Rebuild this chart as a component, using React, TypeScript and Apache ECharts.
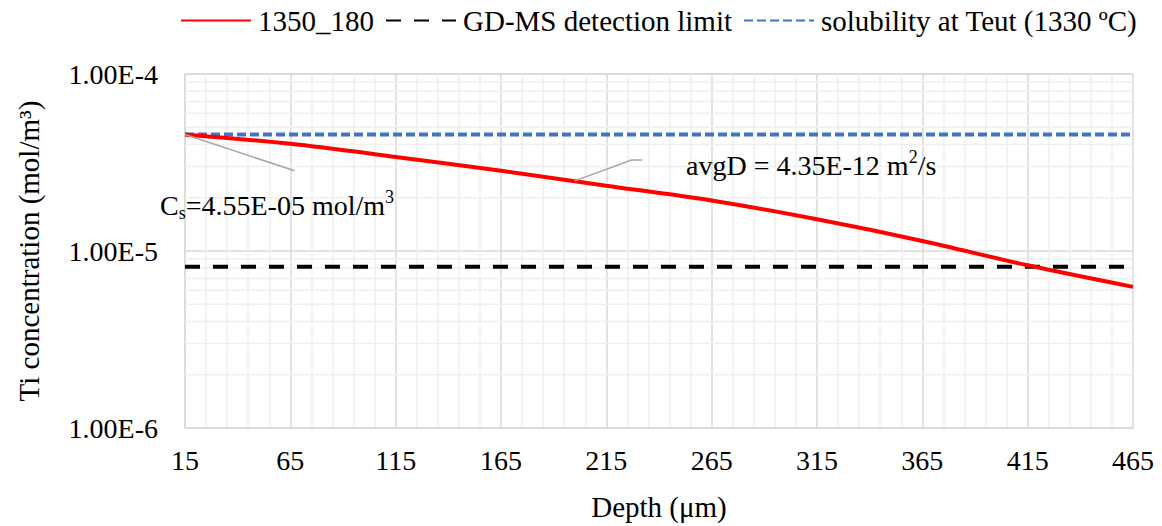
import React, { useEffect, useRef } from 'react';
import * as echarts from 'echarts';

const depth = [15, 65, 115, 165, 215, 265, 315, 365, 415, 465];
const conc1350 = [4.55e-5, 4.03e-5, 3.4e-5, 2.84e-5, 2.34e-5, 1.93e-5, 1.51e-5, 1.14e-5, 8.3e-6, 6.27e-6];
const detectionLimit = 8.15e-6;
const solubility = 4.55e-5;
const xStart = 15;
const xEnd = 465;
const yMinor = [2e-6, 3e-6, 4e-6, 5e-6, 6e-6, 7e-6, 8e-6, 9e-6, 2e-5, 3e-5, 4e-5, 5e-5, 6e-5, 7e-5, 8e-5, 9e-5];
const seriesNames = ['1350_180', 'GD-MS detection limit', 'solubility at Teut (1330 ºC)'];
const leaderCs = [[15, 4.55e-5], [67, 2.84e-5]];
const leaderD = [[200, 2.49e-5], [227, 3.27e-5], [232, 3.27e-5]];

const FONT = 'Liberation Serif';

export default function App() {
  const ref = useRef<HTMLDivElement>(null);
  useEffect(() => {
    if (!ref.current) return;
    const chart = echarts.init(ref.current, undefined, { renderer: 'svg' });
    const minorSeries = yMinor.map((v, i) => ({
      name: 'minor' + i,
      type: 'line',
      data: [[0, v], [xEnd - xStart, v]],
      symbol: 'none',
      silent: true,
      z: 1,
      lineStyle: { color: '#efefef', width: 1.5 },
      emphasis: { disabled: true },
      tooltip: { show: false },
    }));
    const option: any = {
      animation: false,
      textStyle: { fontFamily: FONT, color: '#000' },
      legend: {
        data: seriesNames,
        top: 1,
        left: 175,
        itemWidth: 70,
        itemHeight: 14,
        itemGap: 11,
        itemStyle: { opacity: 0 },
        textStyle: { fontFamily: FONT, fontSize: 29, color: '#000', padding: [0, 0, 0, 2] },
      },
      grid: { left: 185, top: 74, width: 948, height: 357 },
      xAxis: {
        type: 'value',
        min: 0,
        max: xEnd - xStart,
        interval: 50,
        name: 'Depth (μm)',
        nameLocation: 'middle',
        nameGap: 64,
        nameTextStyle: { fontFamily: FONT, fontSize: 29, color: '#000' },
        axisLabel: {
          formatter: (v: number) => String(v + xStart),
          fontFamily: FONT,
          fontSize: 28,
          color: '#000',
          margin: 18,
        },
        axisLine: { show: true, lineStyle: { color: '#d9d9d9', width: 1.5 } },
        axisTick: { show: false },
        splitLine: { show: true, lineStyle: { color: '#d9d9d9', width: 1.5 } },
        minorTick: { show: false, splitNumber: 5 },
        minorSplitLine: { show: true, lineStyle: { color: '#efefef', width: 1.5 } },
      },
      yAxis: {
        type: 'log',
        logBase: 10,
        min: 1e-6,
        max: 1e-4,
        name: 'Ti concentration (mol/m³)',
        nameLocation: 'middle',
        nameGap: 142,
        nameTextStyle: { fontFamily: FONT, fontSize: 29, color: '#000' },
        axisLabel: {
          formatter: (v: number) => v.toExponential(2).toUpperCase().replace('E-0', 'E-'),
          fontFamily: FONT,
          fontSize: 28,
          color: '#000',
          margin: 27,
        },
        axisLine: { show: true, lineStyle: { color: '#d9d9d9', width: 1.5 } },
        axisTick: { show: false },
        splitLine: { show: true, lineStyle: { color: '#d9d9d9', width: 1.5 } },
      },
      series: [
        ...minorSeries,
        {
          name: seriesNames[0],
          type: 'line',
          z: 5,
          smooth: 0.3,
          symbol: 'none',
          lineStyle: { color: '#ff0000', width: 4 },
          itemStyle: { color: '#ff0000' },
          data: depth.map((d, i) => [d - xStart, conc1350[i]]),
        },
        {
          name: seriesNames[1],
          type: 'line',
          z: 4,
          symbol: 'none',
          lineStyle: { color: '#000000', width: 4, type: [15, 13] },
          itemStyle: { color: '#000000' },
          data: [[0, detectionLimit], [xEnd - xStart, detectionLimit]],
        },
        {
          name: seriesNames[2],
          type: 'line',
          z: 4,
          symbol: 'none',
          lineStyle: { color: '#4472c4', width: 4, type: [9, 4] },
          itemStyle: { color: '#4472c4' },
          data: [[0, solubility], [xEnd - xStart, solubility]],
        },
      ],
    };
    chart.setOption(option);
    const toPx = (p: number[]) => chart.convertToPixel({ gridIndex: 0 }, [p[0] - xStart, p[1]]) as number[];
    const rich = {
      a: { fontFamily: FONT, fontSize: 28, color: '#000', lineHeight: 34 },
      sup: { fontFamily: FONT, fontSize: 18, color: '#000', lineHeight: 34, verticalAlign: 'top' },
      sub: { fontFamily: FONT, fontSize: 18, color: '#000', lineHeight: 34, verticalAlign: 'bottom' },
    };
    chart.setOption({
      graphic: [
        {
          type: 'polyline',
          silent: true,
          z: 10,
          shape: { points: leaderCs.map(toPx) },
          style: { stroke: '#a6a6a6', lineWidth: 1.5, fill: null },
        },
        {
          type: 'polyline',
          silent: true,
          z: 10,
          shape: { points: leaderD.map(toPx) },
          style: { stroke: '#a6a6a6', lineWidth: 1.5, fill: null },
        },
        {
          type: 'text',
          left: 160,
          top: 188,
          z: 10,
          style: {
            text: '{a|C}{sub|s}{a|=4.55E-05 mol/m}{sup|3}',
            rich,
          },
        },
        {
          type: 'text',
          left: 686,
          top: 148,
          z: 10,
          style: {
            text: '{a|avgD = 4.35E-12 m}{sup|2}{a|/s}',
            rich,
          },
        },
      ],
    });
    return () => chart.dispose();
  }, []);
  return <div ref={ref} style={{ width: 1162, height: 526, position: 'absolute', left: 0, top: 0 }} />;
}
